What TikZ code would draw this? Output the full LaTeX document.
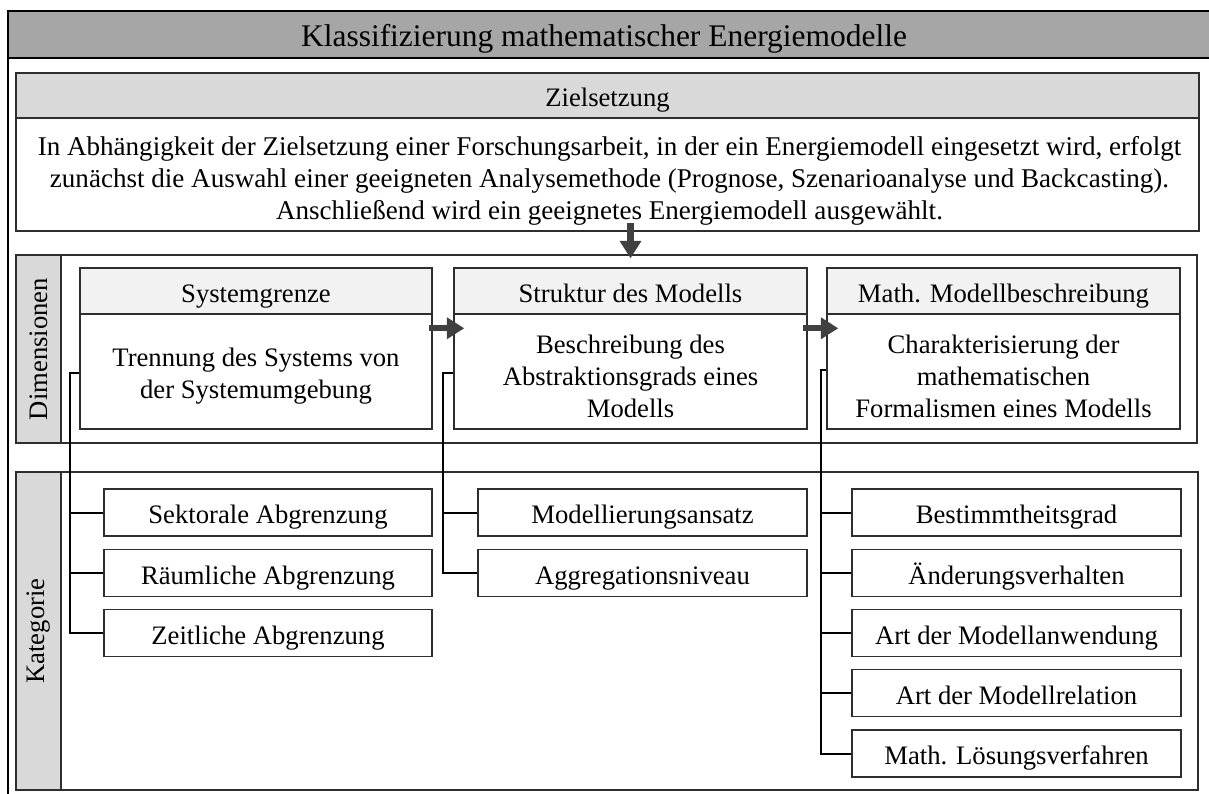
\documentclass[tikz,border=0pt]{standalone}
\usepackage{fontspec}
\setmainfont{Liberation Serif}
\usetikzlibrary{arrows.meta,fit,calc}
\definecolor{titlegray}{HTML}{A6A6A6}
\definecolor{midgray}{HTML}{D9D9D9}
\definecolor{palegray}{HTML}{F2F2F2}
\definecolor{arrowgray}{HTML}{404040}
\definecolor{edgegray}{HTML}{2E2E2E}
\begin{document}
\begin{tikzpicture}[x=0.75pt,y=-0.75pt,
  every node/.style={font=\fontsize{20pt}{24pt}\selectfont},
  panel/.style={draw=edgegray, line width=1.1pt, inner sep=0pt},
  band/.style={panel, fill=titlegray},
  head/.style={panel, fill=midgray},
  subhead/.style={panel, fill=palegray},
  body/.style={panel, fill=white},
  catbox/.style={panel, fill=white},
  txt/.style={align=center, inner sep=0pt, text height=17pt, text depth=0pt},
  mtxt/.style={align=center, inner sep=0pt},
  conn/.style={draw=black, line width=1.5pt},
  flow/.style={draw=arrowgray, line width=4.6pt,
    -{Triangle[length=13pt,width=15.5pt]}},
  sidelabel/.style={rotate=90, inner sep=0pt}]
\useasboundingbox (0,0) rectangle (1209,793);

% outer frame and title band
\node[panel, draw=black, fill=white, fit={(8,11)(1220,805)}] (outer) {};
\node[band, draw=black, fit={(8,11)(1220,58)}] (band) {};
\node[txt, text height=18pt, font=\fontsize{23.6pt}{28pt}\selectfont] (title) at (604,34.5)
  {Klassifizierung mathematischer Energiemodelle};

% objective
\node[head, fit={(16,73)(1199,118)}] (zielH) {};
\node[txt] (zielHT) at (zielH) {Zielsetzung};
\node[body, fit={(16,118)(1199,231)}] (zielB) {};
\node[mtxt, font=\fontsize{20.3pt}{24pt}\selectfont] (zielT) at ($(zielB)+(2,6)$)
  {In Abhängigkeit der Zielsetzung einer Forschungsarbeit, in der ein Energiemodell eingesetzt wird, erfolgt\\
   zunächst die Auswahl einer geeigneten Analysemethode (Prognose, Szenarioanalyse und Backcasting).\\
   Anschließend wird ein geeignetes Energiemodell ausgewählt.};

% dimensions panel
\node[panel, fill=white, fit={(16,255)(1197,443)}] (dimF) {};
\node[head, fit={(16,255)(61,443)}] (dimS) {};
\node[sidelabel] (dimL) at (dimS) {Dimensionen};

% category panel
\node[panel, fill=white, fit={(16,472)(1198,790)}] (katF) {};
\node[head, fit={(16,472)(61,790)}] (katS) {};
\node[sidelabel] (katL) at (katS) {Kategorie};

% dimension boxes
\node[subhead, fit={(80,268)(432,314)}] (sysH) {};
\node[txt] (sysHT) at (sysH) {Systemgrenze};
\node[body, fit={(80,314)(432,429)}] (sysB) {};
\node[mtxt] (sysT) at ($(sysB)+(0,5)$) {Trennung des Systems von\\der Systemumgebung};

\node[subhead, fit={(454,268)(807,314)}] (strH) {};
\node[txt] (strHT) at (strH) {Struktur des Modells};
\node[body, fit={(454,314)(807,429)}] (strB) {};
\node[mtxt] (strT) at ($(strB)+(0,5)$) {Beschreibung des\\Abstraktionsgrads eines\\Modells};

\node[subhead, fit={(827,268)(1180,314)}] (matH) {};
\node[txt] (matHT) at (matH) {Math. Modellbeschreibung};
\node[body, fit={(827,314)(1180,429)}] (matB) {};
\node[mtxt] (matT) at ($(matB)+(0,5)$) {Charakterisierung der\\mathematischen\\Formalismen eines Modells};

% flow arrows
\draw[flow] ($(zielB.south -| strH.north)+(0,-9)$) -- ($(strH.north)+(0,-9)$);
\draw[flow] ($(sysB.north east)+(-4,15)$) -- ($(strB.north west)+(11,15)$);
\draw[flow] ($(strB.north east)+(-5,15)$) -- ($(matB.north west)+(12,15)$);

% categories, column 1
\node[catbox, fit={(104,489)(432,536)}] (a1) {};
\node[txt] (a1t) at (a1) {Sektorale Abgrenzung};
\node[catbox, fit={(104,549.25)(432,596.25)}] (a2) {};
\node[txt] (a2t) at (a2) {Räumliche Abgrenzung};
\node[catbox, fit={(104,609.5)(432,656.5)}] (a3) {};
\node[txt] (a3t) at (a3) {Zeitliche Abgrenzung};

% categories, column 2
\node[catbox, fit={(478,489)(807,536)}] (b1) {};
\node[txt] (b1t) at (b1) {Modellierungsansatz};
\node[catbox, fit={(478,549.25)(807,596.25)}] (b2) {};
\node[txt] (b2t) at (b2) {Aggregationsniveau};

% categories, column 3
\node[catbox, fit={(852,489)(1181,536)}] (c1) {};
\node[txt] (c1t) at (c1) {Bestimmtheitsgrad};
\node[catbox, fit={(852,549.25)(1181,596.25)}] (c2) {};
\node[txt] (c2t) at (c2) {Änderungsverhalten};
\node[catbox, fit={(852,609.5)(1181,656.5)}] (c3) {};
\node[txt] (c3t) at (c3) {Art der Modellanwendung};
\node[catbox, fit={(852,669.75)(1181,716.75)}] (c4) {};
\node[txt] (c4t) at (c4) {Art der Modellrelation};
\node[catbox, fit={(852,730)(1181,777)}] (c5) {};
\node[txt] (c5t) at (c5) {Math. Lösungsverfahren};

% tree connectors
\coordinate (sysJ) at ($(sysB.west)+(-9,1)$);
\draw[conn] ($(sysB.west)+(0,1)$) -- (sysJ) |- (a3.west);
\draw[conn] (sysJ |- a1.west) -- (a1.west);
\draw[conn] (sysJ |- a2.west) -- (a2.west);

\coordinate (strJ) at ($(strB.west)+(-10,1)$);
\draw[conn] ($(strB.west)+(0,1)$) -- (strJ) |- (b2.west);
\draw[conn] (strJ |- b1.west) -- (b1.west);

\coordinate (matJ) at ($(matB.west)+(-5.5,-1.5)$);
\draw[conn] ($(matB.west)+(0,-1.5)$) -- (matJ) |- (c5.west);
\draw[conn] (matJ |- c1.west) -- (c1.west);
\draw[conn] (matJ |- c2.west) -- (c2.west);
\draw[conn] (matJ |- c3.west) -- (c3.west);
\draw[conn] (matJ |- c4.west) -- (c4.west);
\end{tikzpicture}
\end{document}
